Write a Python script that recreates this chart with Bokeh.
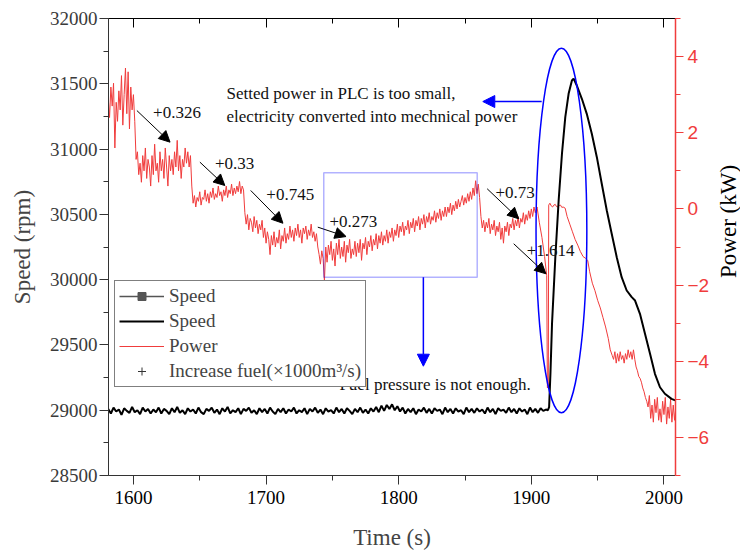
from bokeh.plotting import figure
from bokeh.layouts import row
from bokeh.models import (Range1d, LinearAxis, SingleIntervalTicker, FixedTicker, Arrow,
                          NormalHead, Label, Legend, LegendItem, BoxAnnotation)
from bokeh.embed import file_html
from bokeh.resources import INLINE

# ---------------- data ----------------
speed_time = [
    1581, 1583, 1585, 1587, 1589, 1591, 1593, 1595, 1597, 1599,
    1601, 1603, 1605, 1607, 1609, 1611, 1613, 1615, 1617, 1619,
    1621, 1623, 1625, 1627, 1629, 1631, 1633, 1635, 1637, 1639,
    1641, 1643, 1645, 1647, 1649, 1651, 1653, 1655, 1657, 1659,
    1661, 1663, 1665, 1667, 1669, 1671, 1673, 1675, 1677, 1679,
    1681, 1683, 1685, 1687, 1689, 1691, 1693, 1695, 1697, 1699,
    1701, 1703, 1705, 1707, 1709, 1711, 1713, 1715, 1717, 1719,
    1721, 1723, 1725, 1727, 1729, 1731, 1733, 1735, 1737, 1739,
    1741, 1743, 1745, 1747, 1749, 1751, 1753, 1755, 1757, 1759,
    1761, 1763, 1765, 1767, 1769, 1771, 1773, 1775, 1777, 1779,
    1781, 1783, 1785, 1787, 1789, 1791, 1793, 1795, 1797, 1799,
    1801, 1803, 1805, 1807, 1809, 1811, 1813, 1815, 1817, 1819,
    1821, 1823, 1825, 1827, 1829, 1831, 1833, 1835, 1837, 1839,
    1841, 1843, 1845, 1847, 1849, 1851, 1853, 1855, 1857, 1859,
    1861, 1863, 1865, 1867, 1869, 1871, 1873, 1875, 1877, 1879,
    1881, 1883, 1885, 1887, 1889, 1891, 1893, 1895, 1897, 1899,
    1901, 1903, 1905, 1907, 1909, 1911,
    1912.5, 1913.4, 1914.4, 1915.6, 1918.1, 1920.6, 1923.1, 1925.6, 1928.1,
    1930.6, 1931.9, 1934.3, 1938.1, 1941.8, 1945.6, 1949.4, 1953.1, 1956.9, 1960.6,
    1964.4, 1968.1, 1971.9, 1975.7, 1978.2, 1981.9, 1985.7, 1989.5, 1993.2, 1997.0,
    2000.7, 2005.7, 2008.5,
]
speed_rpm = [
    29010, 28975, 29020, 28990, 29005, 28965, 29015, 28995, 28980, 29025,
    28985, 29000, 28970, 29020, 28990, 29010, 28975, 29005, 28985, 29020,
    28975, 29010, 28995, 28970, 29015, 28985, 29025, 28980, 29000, 28970,
    29015, 28990, 29005, 28975, 29020, 28985, 28970, 29010, 28995, 29020,
    28980, 29005, 28970, 29015, 28990, 29025, 28975, 29000, 28985, 29015,
    28970, 29010, 28995, 29020, 28980, 29000, 28970, 29015, 28985, 29010,
    28975, 29020, 28990, 28970, 29010, 28985, 29015, 28975, 29005, 28990,
    29020, 28975, 29000, 28985, 29015, 28970, 29010, 28990, 29020, 28980,
    29005, 28970, 29015, 28990, 29000, 28975, 29020, 28985, 29010, 28975,
    29015, 28995, 28970, 29010, 28985, 29020, 28980, 29005, 28975, 29015,
    28990, 29025, 28985, 29035, 28995, 29040, 29010, 29045, 29000, 29030,
    28990, 29020, 28975, 29010, 28985, 29015, 28970, 29005, 28990, 29020,
    28980, 29010, 28975, 29015, 28995, 29005, 28970, 29020, 28985, 29010,
    28975, 29015, 28990, 29000, 28970, 29020, 28985, 29010, 28980, 29015,
    28990, 29005, 28975, 29020, 28985, 29010, 28970, 29015, 28995, 29005,
    28980, 29020, 28985, 29010, 28975, 29015, 28990, 29005, 28970, 29020,
    28985, 29010, 28980, 29015, 28995, 29005,
    29000, 29023, 29279, 29662, 30172, 30606, 30964, 31244, 31423,
    31525, 31540, 31487, 31385, 31270, 31117, 30938, 30734, 30530, 30351,
    30172, 30019, 29917, 29866, 29840, 29738, 29585, 29432, 29279, 29176,
    29126, 29087, 29075,
]

power_time = [
    1581, 1582, 1583, 1584, 1585, 1586, 1587, 1588, 1589, 1590,
    1591, 1592, 1593, 1594, 1595, 1596, 1597, 1598, 1599, 1600,
    1601, 1602, 1603, 1604, 1605, 1606, 1607, 1608, 1609, 1610,
    1611, 1612, 1613, 1614, 1615, 1616, 1617, 1618, 1619, 1620,
    1621, 1622, 1623, 1624, 1625, 1626, 1627, 1628, 1629, 1630,
    1631, 1632, 1633, 1634, 1635, 1636, 1637, 1638, 1639, 1640,
    1641, 1642, 1643, 1644, 1645, 1646, 1647, 1648, 1649, 1650,
    1651, 1652, 1653, 1654, 1655, 1656, 1657, 1658, 1659, 1660,
    1661, 1662, 1663, 1664, 1665, 1666, 1667, 1668, 1669, 1670,
    1671, 1672, 1673, 1674, 1675, 1676, 1677, 1678, 1679, 1680,
    1681, 1682, 1683, 1684, 1685, 1686, 1687, 1688, 1689, 1690,
    1691, 1692, 1693, 1694, 1695, 1696, 1697, 1698, 1699, 1700,
    1701, 1702, 1703, 1704, 1705, 1706, 1707, 1708, 1709, 1710,
    1711, 1712, 1713, 1714, 1715, 1716, 1717, 1718, 1719, 1720,
    1721, 1722, 1723, 1724, 1725, 1726, 1727, 1728, 1729, 1730,
    1731, 1732, 1733, 1734, 1735, 1736, 1737, 1738, 1739, 1740,
    1741, 1742, 1743, 1744, 1745, 1746, 1747, 1748, 1749, 1750,
    1751, 1752, 1753, 1754, 1755, 1756, 1757, 1758, 1759, 1760,
    1761, 1762, 1763, 1764, 1765, 1766, 1767, 1768, 1769, 1770,
    1771, 1772, 1773, 1774, 1775, 1776, 1777, 1778, 1779, 1780,
    1781, 1782, 1783, 1784, 1785, 1786, 1787, 1788, 1789, 1790,
    1791, 1792, 1793, 1794, 1795, 1796, 1797, 1798, 1799, 1800,
    1801, 1802, 1803, 1804, 1805, 1806, 1807, 1808, 1809, 1810,
    1811, 1812, 1813, 1814, 1815, 1816, 1817, 1818, 1819, 1820,
    1821, 1822, 1823, 1824, 1825, 1826, 1827, 1828, 1829, 1830,
    1831, 1832, 1833, 1834, 1835, 1836, 1837, 1838, 1839, 1840,
    1841, 1842, 1843, 1844, 1845, 1846, 1847, 1848, 1849, 1850,
    1851, 1852, 1853, 1854, 1855, 1856, 1857, 1858, 1859, 1860,
    1861, 1862, 1863, 1864, 1865, 1866, 1867, 1868, 1869, 1870,
    1871, 1872, 1873, 1874, 1875, 1876, 1877, 1878, 1879, 1880,
    1881, 1882, 1883, 1884, 1885, 1886, 1887, 1888, 1889, 1890,
    1891, 1892, 1893, 1894, 1895, 1896, 1897, 1898, 1899, 1900,
    1901, 1902, 1903,
    1904.3, 1906, 1908, 1910, 1911.6, 1912.1, 1912.8, 1913.1, 1914, 1915,
    1916, 1917, 1918, 1919, 1920, 1921, 1922, 1923, 1924, 1925.5,
    1927, 1929, 1931, 1933, 1935, 1937, 1939, 1941, 1942.5, 1944,
    1946, 1948, 1950, 1952, 1954, 1956, 1958, 1959.5, 1961, 1962,
    1963, 1964, 1965, 1966, 1967, 1968, 1969, 1970, 1971, 1972,
    1973, 1974, 1975, 1976, 1977, 1978, 1979, 1980, 1981, 1982,
    1983, 1984, 1985, 1986, 1987, 1988, 1989, 1990, 1991, 1992,
    1993, 1994, 1995, 1996, 1997, 1998, 1999, 2000, 2001, 2002,
    2003, 2004, 2005, 2006, 2007, 2008, 2009,
]
power_kw = [
    2.9, 2.4, 3.2, 2.7, 3.3, 1.6, 2.8, 2.3, 3.1, 2.6,
    3.5, 2.2, 3.0, 3.7, 2.5, 3.6, 2.1, 3.2, 2.6, 3.0,
    2.3, 1.3, 1.5, 0.9, 1.2, 0.7, 1.4, 1.0, 1.6, 0.8,
    1.3, 1.1, 0.6, 1.4, 0.9, 1.7, 1.0, 1.2, 0.7, 1.5,
    1.0, 1.3, 0.8, 1.6, 1.1, 0.6, 1.4, 1.0, 1.3, 0.9,
    1.5, 1.1, 1.8, 1.0, 1.4, 0.8, 1.3, 1.1, 1.6, 1.2,
    1.5, 1.1, 1.4, 0.6, 0.15, 0.35, 0.05, 0.3, 0.2, 0.45,
    0.1, 0.3, 0.25, 0.5, 0.2, 0.4, 0.15, 0.45, 0.3, 0.55,
    0.25, 0.4, 0.3, 0.6, 0.35, 0.45, 0.2, 0.5, 0.35, 0.6,
    0.3, 0.5, 0.4, 0.65, 0.35, 0.55, 0.4, 0.6, 0.45, 0.72,
    0.4, 0.6, 0.5, -0.1, -0.4, -0.15, -0.55, -0.25, -0.35, -0.6,
    -0.2, -0.5, -0.3, -0.65, -0.4, -0.55, -0.3, -0.75, -0.5, -0.9,
    -0.6, -0.8, -1.2, -0.7, -0.95, -0.6, -1.0, -0.75, -0.9, -0.55,
    -1.05, -0.7, -0.85, -0.5, -0.9, -0.65, -0.8, -0.45, -0.75, -0.55,
    -0.85, -0.5, -0.7, -0.4, -0.75, -0.55, -0.9, -0.5, -0.65, -0.45,
    -0.8, -0.55, -0.7, -0.4, -0.75, -0.6, -0.85, -0.65, -1.0, -1.2,
    -1.45, -1.1, -1.3, -1.9, -1.0, -1.4, -0.95, -1.2, -0.85, -1.35,
    -1.05, -1.5, -0.9, -1.2, -0.8, -1.3, -1.0, -1.25, -0.85, -1.4,
    -0.95, -1.15, -0.8, -1.3, -1.05, -1.2, -0.85, -1.25, -0.9, -1.15,
    -0.8, -1.35, -0.9, -1.05, -0.75, -1.2, -0.85, -1.0, -0.7, -1.1,
    -0.8, -0.95, -0.65, -1.05, -0.7, -0.9, -0.6, -0.95, -0.7, -0.85,
    -0.55, -0.9, -0.6, -0.75, -0.5, -0.85, -0.55, -0.7, -0.4, -0.75,
    -0.45, -0.6, -0.35, -0.7, -0.45, -0.55, -0.3, -0.65, -0.35, -0.5,
    -0.25, -0.6, -0.3, -0.45, -0.2, -0.55, -0.25, -0.4, -0.15, -0.5,
    -0.2, -0.35, -0.1, -0.4, -0.2, -0.3, -0.05, -0.35, -0.1, -0.25,
    0.0, -0.3, -0.05, -0.2, 0.05, -0.2, 0.05, -0.1, 0.15, -0.15,
    0.1, -0.05, 0.2, 0.0, 0.25, 0.05, 0.2, 0.35, 0.1, 0.3,
    0.15, 0.4, 0.2, 0.45, 0.25, 0.55, 0.35, 0.74, 0.4, 0.65,
    0.3, -0.2, -0.5, -0.3, -0.6, -0.35, -0.5, -0.25, -0.65, -0.4,
    -0.55, -0.3, -0.7, -0.45, -0.6, -0.35, -0.8, -0.5, -0.9, -0.45,
    -0.6, -0.35, -0.7, -0.4, -0.5, -0.25, -0.55, -0.3, -0.45, -0.2,
    -0.5, -0.25, -0.35, -0.1, -0.4, -0.15, -0.3, -0.05, -0.25, 0.0,
    -0.2, 0.05, -0.1,
    0.05, -0.35, -0.75, -1.25, -1.75, -4.7, -4.65, 0.1, 0.15, 0.08,
    0.05, 0.1, 0.12, 0.06, 0.05, 0.09, 0.1, 0.04, 0.05, 0.02,
    -0.2, -0.4, -0.6, -0.8, -0.95, -1.12, -1.25, -1.3, -1.35, -1.65,
    -1.95, -2.15, -2.4, -2.6, -2.85, -3.1, -3.4, -3.7, -3.85, -3.95,
    -3.75, -4.05, -3.8, -4.0, -3.75, -3.95, -3.85, -4.05, -3.8, -3.95,
    -3.7, -3.9, -3.75, -3.95, -3.7, -3.95, -4.15, -4.25, -4.4, -4.45,
    -4.55, -4.7, -4.8, -4.95, -5.05, -5.2, -4.9, -5.5, -5.15, -5.6,
    -5.0, -5.35, -4.95, -5.55, -5.25, -5.6, -5.05, -5.4, -4.95, -5.65,
    -5.2, -5.5, -5.0, -5.6, -5.15, -5.55, -5.2,
]

assert len(speed_time) == len(speed_rpm)
assert len(power_time) == len(power_kw)

time_major_ticks = [1600, 1700, 1800, 1900, 2000]
time_minor_ticks = [1650, 1750, 1850, 1950]

legend_labels = ["Speed", "Speed", "Power", "Increase fuel(\u00d71000m\u00b3/s)"]
fuel_increments = ["+0.326", "+0.33", "+0.745", "+0.273", "+0.73", "+1.614"]
note_plc = ["Setted power in PLC is too small,", "electricity converted into mechnical power"]
note_fuel = "Fuel pressure is not enough."
power_title = "Power (kW)"
nan = float("nan")

# ---------------- styling ----------------
RED = "#F03C3C"
BLUE = "#0000FF"
AX = "#333333"
SERIF = "Liberation Serif"
SANS = "Liberation Sans"

p = figure(width=712, height=552, output_backend="svg", toolbar_location=None,
           x_range=Range1d(1581.2, 2008.7), y_range=Range1d(28500, 32000),
           min_border_left=108, min_border_right=35, min_border_top=18,
           min_border_bottom=77)
p.extra_y_ranges = {"power": Range1d(-7, 5)}
p.grid.visible = False
p.outline_line_color = None

# bottom axis
xa = p.xaxis[0]
xa.ticker = SingleIntervalTicker(interval=100, num_minor_ticks=2)
xa.axis_label = "Time (s)"
xa.axis_line_color = AX
xa.major_tick_line_color = AX
xa.minor_tick_line_color = AX
xa.major_tick_out = 9
xa.major_tick_in = 0
xa.minor_tick_out = 5
xa.minor_tick_in = 0
xa.major_label_text_font = SERIF
xa.major_label_text_font_size = "19px"
xa.major_label_text_color = "black"
xa.major_label_standoff = 6
xa.axis_label_text_font = SERIF
xa.axis_label_text_font_size = "23px"
xa.axis_label_text_font_style = "normal"
xa.axis_label_standoff = 18

# left axis
ya = p.yaxis[0]
ya.ticker = SingleIntervalTicker(interval=500, num_minor_ticks=2)
ya.axis_label = "Speed (rpm)"
ya.axis_line_color = AX
ya.major_tick_line_color = AX
ya.minor_tick_line_color = AX
ya.major_tick_out = 9
ya.major_tick_in = 0
ya.minor_tick_out = 5
ya.minor_tick_in = 0
ya.major_label_text_font = SERIF
ya.major_label_text_font_size = "19px"
ya.major_label_text_color = "#3a3a3a"
ya.major_label_standoff = 2
ya.axis_label_text_font = SERIF
ya.axis_label_text_font_size = "23px"
ya.axis_label_text_font_style = "normal"
ya.axis_label_standoff = 12

# top axis: ticks only (no labels)
for ticks, length in [(time_major_ticks, 9), (time_minor_ticks, 5)]:
    ta = LinearAxis(ticker=FixedTicker(ticks=[], minor_ticks=ticks),
                    axis_line_color="black", major_tick_line_color="black",
                    minor_tick_line_color="black", major_tick_in=0, major_tick_out=0,
                    minor_tick_in=length, minor_tick_out=0, major_label_standoff=0)
    p.add_layout(ta, "above")

# right axis (power)
ra = LinearAxis(y_range_name="power",
                ticker=SingleIntervalTicker(interval=2, num_minor_ticks=2),
                axis_line_color=RED, major_tick_line_color=RED, minor_tick_line_color=RED,
                major_tick_out=8, major_tick_in=0, minor_tick_out=5, minor_tick_in=0,
                major_label_text_font=SANS, major_label_text_font_size="19px",
                major_label_text_color=RED, major_label_standoff=4, axis_line_width=1.5)
p.add_layout(ra, "right")

# ---------------- series ----------------
r_power = p.line(power_time, power_kw, y_range_name="power", line_color=RED, line_width=1.0)
r_speed = p.line(speed_time, speed_rpm, line_color="black", line_width=2.0)

# legend-only renderers (one NaN point: nothing drawn in the plot)
r_sp_gray = p.line([nan], [nan], line_color="#555555", line_width=1.3)
r_sp_mark = p.scatter([nan], [nan], marker="square", size=4, color="#555555")
r_fuel = p.scatter([nan], [nan], marker="cross", size=10, line_color="#333333", line_width=1)

# ---------------- annotations ----------------
def head(color, size):
    return NormalHead(size=size, fill_color=color, line_color=color)

black_arrows = [
    (1602.6, 31295, 1627.6, 31053),
    (1650.1, 30900, 1668.9, 30721),
    (1688.4, 30683, 1712.7, 30432),
    (1739.0, 30402, 1760.3, 30330),
    (1866.7, 30696, 1890.5, 30466),
    (1886.7, 30275, 1911.0, 30045),
]
for xs, ys, xe, ye in black_arrows:
    p.add_layout(Arrow(end=head("black", 11), x_start=xs, y_start=ys, x_end=xe, y_end=ye,
                       line_color="black", line_width=1))

label_pos = [(1614.8, 31282), (1661.5, 30887), (1700.2, 30652), (1747.8, 30448),
             (1873.0, 30665), (1896.5, 30223)]
for (lx, ly), txt in zip(label_pos, fuel_increments):
    p.add_layout(Label(x=lx, y=ly, text=txt, text_font=SERIF, text_font_size="17px",
                       text_baseline="middle", text_align="left", text_color="#111111"))

p.add_layout(Label(x=1670.2, y=31423, text=note_plc[0], text_font=SERIF,
                   text_font_size="17px", text_baseline="middle", text_color="#111111"))
p.add_layout(Label(x=1670.2, y=31252, text=note_plc[1], text_font=SERIF,
                   text_font_size="17px", text_baseline="middle", text_color="#111111"))

# blue box, ellipse and arrows
p.add_layout(BoxAnnotation(left=1743.5, right=1859.2, bottom=30019, top=30818,
                           fill_alpha=0, line_color=BLUE, line_width=1.5))
p.ellipse(x=[1922.7], y=[30376], width=38.3, height=2795, fill_color=None,
          line_color=BLUE, line_width=1.5)
p.add_layout(Arrow(end=head(BLUE, 12), x_start=1907.8, y_start=31364, x_end=1863.4,
                   y_end=31364, line_color=BLUE, line_width=1.5))
p.add_layout(Arrow(end=head(BLUE, 12), x_start=1818.6, y_start=30019, x_end=1818.6,
                   y_end=29337, line_color=BLUE, line_width=1.5))

# ---------------- legend ----------------
legend = Legend(items=[
    LegendItem(label=legend_labels[0], renderers=[r_sp_gray, r_sp_mark]),
    LegendItem(label=legend_labels[1], renderers=[r_speed]),
    LegendItem(label=legend_labels[2], renderers=[r_power]),
    LegendItem(label=legend_labels[3], renderers=[r_fuel]),
], location=(6, 88), label_text_font=SERIF, label_text_font_size="19px",
    glyph_width=45, glyph_height=20, label_height=20, label_standoff=5, spacing=3,
    padding=4, margin=0, border_line_color="black", border_line_width=1,
    background_fill_alpha=1.0)
p.add_layout(legend)

# this note overlaps the legend edge, drawn on top of it
p.add_layout(Label(x=1755.3, y=29197, text=note_fuel, text_font=SERIF,
                   text_font_size="17px", text_baseline="middle", text_color="#111111"))

# ---------------- narrow strip on the right holding the power-axis title ----------------
side = figure(width=28, height=552, output_backend="svg", toolbar_location=None,
              x_range=Range1d(0, 1), y_range=Range1d(0, 1),
              x_axis_type=None, y_axis_type=None,
              min_border_left=0, min_border_right=0, min_border_top=0, min_border_bottom=0)
side.outline_line_color = None
side.add_layout(Label(x=0.57, y=0.556, text=power_title, angle=90, angle_units="deg",
                      text_align="center", text_baseline="middle", text_font=SERIF,
                      text_font_size="23px", text_color="black"))

layout = row(p, side, spacing=0)
open("out.html", "w").write(file_html(layout, INLINE))
